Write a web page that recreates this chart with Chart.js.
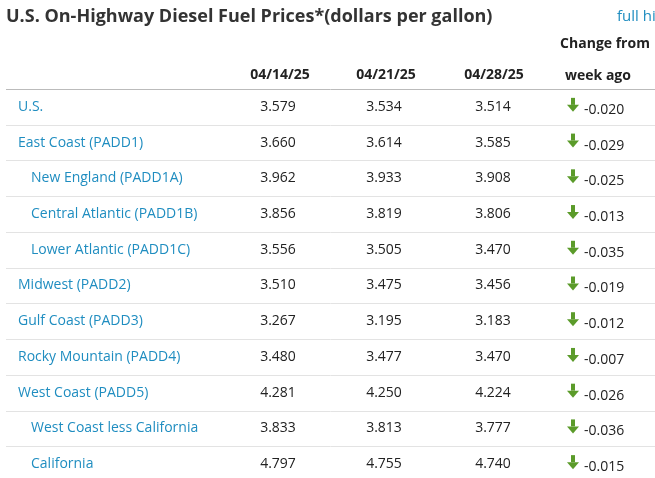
<!DOCTYPE html>
<html>
<head>
<meta charset="utf-8">
<script src="https://cdn.jsdelivr.net/npm/chart.js@4"></script>
<style>body{margin:0;background:#fff;overflow:hidden}</style>
</head>
<body>
<canvas id="PriceTable" width="655" height="482"></canvas>
<script>
// table data
const regions = ["U.S.", "East Coast (PADD1)", "New England (PADD1A)", "Central Atlantic (PADD1B)",
    "Lower Atlantic (PADD1C)", "Midwest (PADD2)", "Gulf Coast (PADD3)", "Rocky Mountain (PADD4)",
    "West Coast (PADD5)", "West Coast less California", "California"];
const indented = [false, false, true, true, true, false, false, false, false, true, true];
const dates = ["04/14/25", "04/21/25", "04/28/25"];
const week1 = [3.579, 3.660, 3.962, 3.856, 3.556, 3.510, 3.267, 3.480, 4.281, 3.833, 4.797];
const week2 = [3.534, 3.614, 3.933, 3.819, 3.505, 3.475, 3.195, 3.477, 4.250, 3.813, 4.755];
const week3 = [3.514, 3.585, 3.908, 3.806, 3.470, 3.456, 3.183, 3.470, 4.224, 3.777, 4.740];
const changes = [-0.020, -0.029, -0.025, -0.013, -0.035, -0.019, -0.012, -0.007, -0.026, -0.036, -0.015];

const FONT = '"Open Sans", Lato, sans-serif';
const BLUE = '#1f8dc0';

const tablePlugin = {
    id: 'tableText',
    afterDraw(chart) {
        const ctx = chart.ctx;
        const y = chart.scales.y;
        const area = chart.chartArea;
        const step = y.getPixelForValue(1) - y.getPixelForValue(0);
        ctx.save();
        // title + header
        ctx.fillStyle = '#333';
        ctx.font = 'bold 18px ' + FONT;
        ctx.textBaseline = 'middle';
        ctx.textAlign = 'left';
        ctx.fillText('U.S. On-Highway Diesel Fuel Prices*(dollars per gallon)', 6, 17);
        ctx.font = '15px ' + FONT;
        ctx.fillStyle = BLUE;
        ctx.fillText('full hi', 617, 17);
        ctx.fillStyle = '#222';
        ctx.font = 'bold 14px ' + FONT;
        ctx.textAlign = 'center';
        ctx.fillText('Change from', 605, 44);
        ctx.fillText('week ago', 598, 76);
        const cols = [280, 386, 494];
        dates.forEach((d, i) => ctx.fillText(d, cols[i], 75));
        // header rule
        ctx.strokeStyle = '#bbb';
        ctx.lineWidth = 1;
        ctx.beginPath();
        ctx.moveTo(6, area.top + 0.5);
        ctx.lineTo(655, area.top + 0.5);
        ctx.stroke();

        ctx.font = '14px ' + FONT;
        regions.forEach((r, i) => {
            const py = y.getPixelForValue(i);
            ctx.fillStyle = BLUE;
            ctx.textAlign = 'left';
            ctx.fillText(r, indented[i] ? 31 : 18, py);
            ctx.fillStyle = '#222';
            ctx.textAlign = 'center';
            ctx.fillText(week1[i].toFixed(3), 278, py);
            ctx.fillText(week2[i].toFixed(3), 384, py);
            ctx.fillText(week3[i].toFixed(3), 493, py);
            ctx.textAlign = 'left';
            ctx.fillText(changes[i].toFixed(3), 584, py + 3);
            // arrow
            ctx.fillStyle = '#5b9b2a';
            const ax = 573, ay = py - 2;
            ctx.fillRect(ax - 2, ay - 7, 4, 7);
            ctx.beginPath();
            ctx.moveTo(ax - 6, ay);
            ctx.lineTo(ax + 6, ay);
            ctx.lineTo(ax, ay + 7);
            ctx.closePath();
            ctx.fill();
            // row rule
            if (i < regions.length - 1) {
                const ly = Math.round(py + step / 2) + 0.5;
                ctx.strokeStyle = '#e3e3e3';
                ctx.beginPath();
                ctx.moveTo(6, ly);
                ctx.lineTo(655, ly);
                ctx.stroke();
            }
        });
        ctx.restore();
    }
};

new Chart(document.getElementById('PriceTable').getContext('2d'), {
    type: 'bar',
    data: {
        labels: regions,
        datasets: [{ label: 'change', data: changes.map(() => null) }]
    },
    options: {
        indexAxis: 'y',
        responsive: false,
        animation: false,
        layout: { padding: { top: 89, left: 0, right: 0, bottom: 0 } },
        plugins: { legend: { display: false }, tooltip: { enabled: false } },
        scales: {
            y: { type: 'category', display: false, offset: true },
            x: { display: false, min: 0, max: 1 }
        }
    },
    plugins: [tablePlugin]
});
</script>
</body>
</html>
